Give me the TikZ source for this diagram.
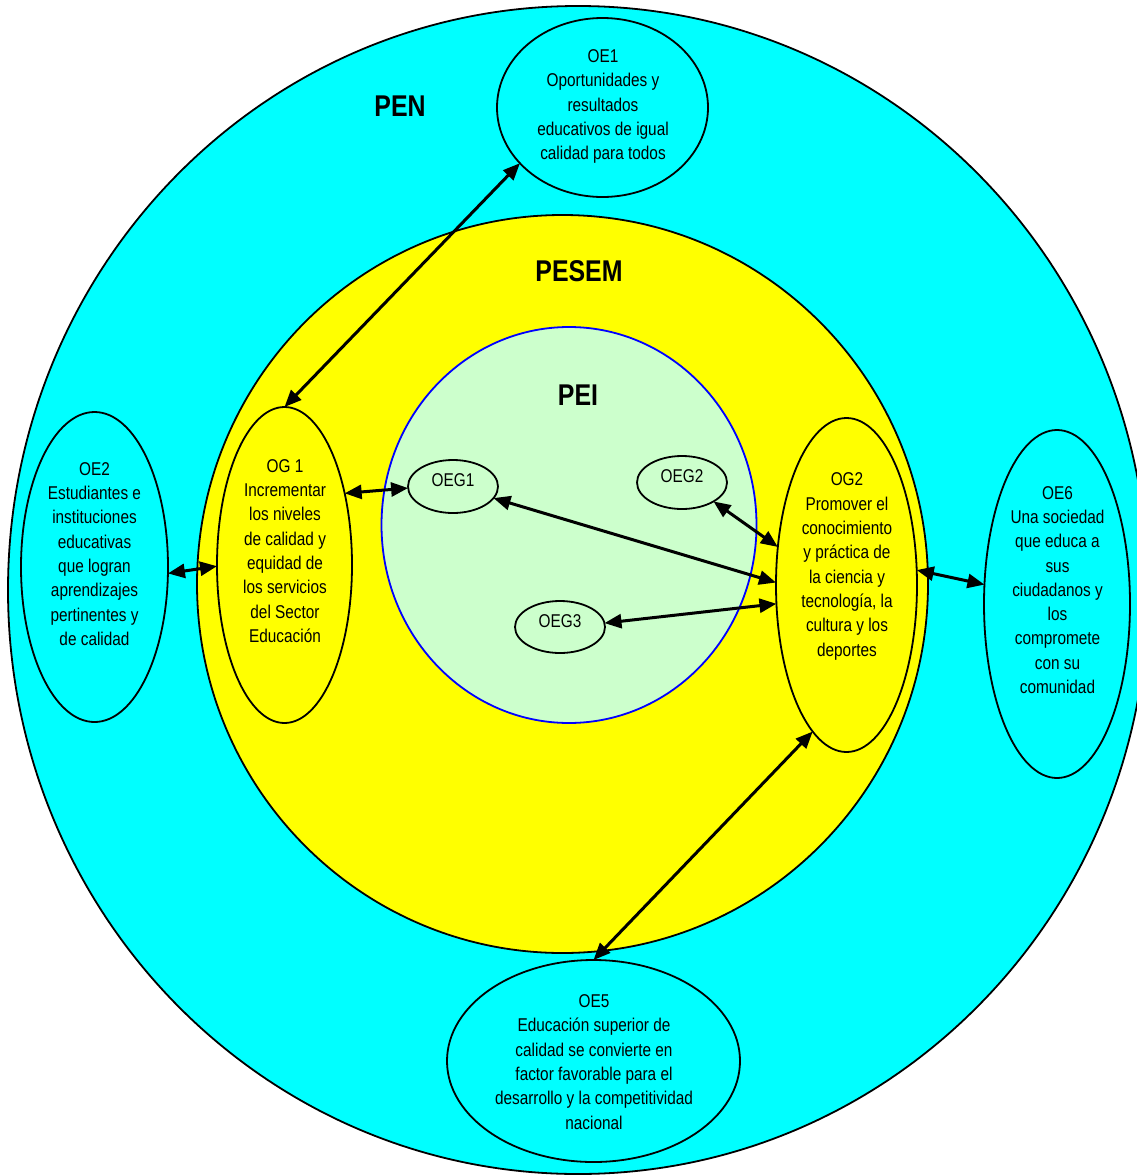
\documentclass[tikz,border=0pt]{standalone}
\usepackage{fontspec}
\setmainfont{Liberation Sans}
\newfontfamily\nar[FakeStretch=0.83]{Liberation Sans}
\usetikzlibrary{shapes.geometric,arrows.meta}
\definecolor{penc}{HTML}{00FFFF}
\definecolor{yel}{HTML}{FFFF00}
\definecolor{peic}{HTML}{CCFFCC}
\begin{document}
\begin{tikzpicture}[x=1pt,y=-1pt,
  ring/.style={draw=black, line width=1.8pt, ellipse, inner sep=0pt, outer sep=0pt},
  oval/.style={draw=black, line width=1.8pt, ellipse, inner sep=0pt, outer sep=0pt},
  txt/.style={align=center, inner sep=0pt, font=\nar\fontsize{18.5}{24.3}\selectfont},
  title/.style={inner sep=0pt, font=\nar\bfseries\fontsize{30}{36}\selectfont},
  link/.style={line width=3pt, {Triangle[length=17pt,width=14pt]}-{Triangle[length=17pt,width=14pt]}}]
\fill[white] (0,0) rectangle (1137,1175);
\clip (0,0) rectangle (1137,1175);

% nested plans
\node[ring, fill=penc, minimum width=1140pt, minimum height=1168pt] (pen) at (578,590) {};
\node[ring, fill=yel, minimum width=731pt, minimum height=738pt] (pesem) at (562.5,584) {};
\node[ring, draw=blue, fill=peic, minimum width=375pt, minimum height=396pt] (pei) at (569,525) {};

\node[title] (tpen) at (400,106) {PEN};
\node[title] (tpesem) at (579,271) {PESEM};
\node[title] (tpei) at (578,395) {PEI};

% PEN objectives
\node[oval, fill=penc, minimum width=211pt, minimum height=179pt] (oe1) at (602.5,107.5) {};
\node[txt] (toe1) at (603,106.5) {OE1\\Oportunidades y\\resultados\\educativos de igual\\calidad para todos};

\node[oval, fill=penc, minimum width=147pt, minimum height=310pt] (oe2) at (94.5,567) {};
\node[txt] (toe2) at (94.5,554) {OE2\\Estudiantes e\\instituciones\\educativas\\que logran\\aprendizajes\\pertinentes y\\de calidad};

\node[oval, fill=penc, minimum width=146pt, minimum height=348pt] (oe6) at (1057,604) {};
\node[txt] (toe6) at (1057.5,590) {OE6\\Una sociedad\\que educa a\\sus\\ciudadanos y\\los\\compromete\\con su\\comunidad};

\node[oval, fill=penc, minimum width=293pt, minimum height=202pt] (oe5) at (593.5,1061) {};
\node[txt] (toe5) at (594,1062) {OE5\\Educación superior de\\calidad se convierte en\\factor favorable para el\\desarrollo y la competitividad\\nacional};

% PESEM objectives
\node[oval, fill=yel, minimum width=135pt, minimum height=316pt] (og1) at (284.5,565) {};
\node[txt] (tog1) at (285,551) {OG 1\\Incrementar\\los niveles\\de calidad y\\equidad de\\los servicios\\del Sector\\Educación};

\node[oval, fill=yel, minimum width=141pt, minimum height=334pt] (og2) at (846.5,585) {};
\node[txt] (tog2) at (847,566.5) {OG2\\Promover el\\conocimiento\\y práctica de\\la ciencia y\\tecnología, la\\cultura y los\\deportes};

% PEI objectives
\node[oval, fill=peic, minimum width=90pt, minimum height=53pt] (oeg1) at (453,486.5) {};
\node[txt] (toeg1) at (453,480) {OEG1};
\node[oval, fill=peic, minimum width=90pt, minimum height=53pt] (oeg2) at (682,482.5) {};
\node[txt] (toeg2) at (682,476) {OEG2};
\node[oval, fill=peic, minimum width=90pt, minimum height=52pt] (oeg3) at (560,627) {};
\node[txt] (toeg3) at (560,621) {OEG3};

% links
\draw[link] (og1.north) -- (oe1.214.8);
\draw[link] (og1.50.6) -- (oeg1.182.5);
\draw[link] (oe2.355.2) -- (og1.181.7);
\draw[link] (oeg1.344) -- (og2.178.3);
\draw[link] (oeg2.329.4) -- (og2.151.6);
\draw[link] (oeg3.5) -- (og2.195);
\draw[link] (og2.12.8) -- (oe6.165.4);
\draw[link] (og2.257.4) -- (oe5.north);
\end{tikzpicture}
\end{document}
